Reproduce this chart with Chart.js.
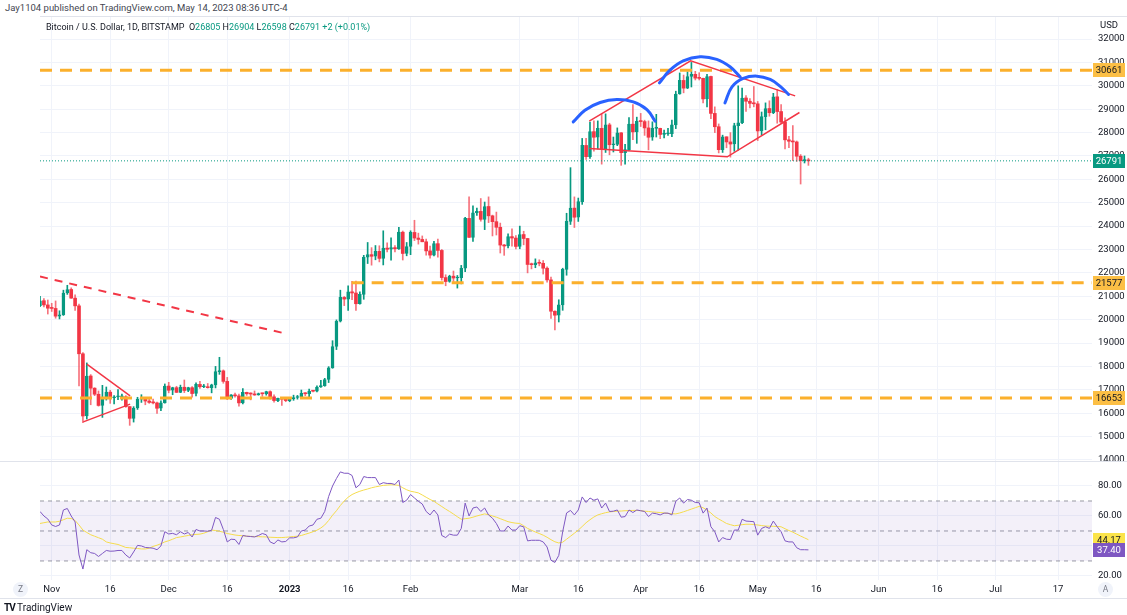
<!DOCTYPE html>
<html>
<head>
<meta charset="utf-8">
<script src="https://cdn.jsdelivr.net/npm/chart.js@4.4.0/dist/chart.umd.min.js"></script>
<style>
  body { margin: 0; background: #fff; width: 1127px; height: 615px; overflow: hidden; position: relative;
         font-family: Roboto, "Noto Sans", sans-serif; color: #131722; }
  canvas { position: absolute; left: 0; }
  #price { top: 17px; }
  #rsi { top: 461px; }
  .t { position: absolute; white-space: nowrap; font-size: 9.5px; line-height: 12px; }
  .sep { position: absolute; height: 1px; background: #e0e3eb; }
  .g { color: #089981; }
  .btn { position: absolute; width: 15px; height: 15px; border-radius: 50%; background: #f0f3fa;
         color: #787b86; font-size: 8.5px; text-align: center; line-height: 15px; }
</style>
</head>
<body>
<div class="t" style="left:5px;top:2px;color:#434651">Jay1104 published on TradingView.com, May 14, 2023 08:36 UTC-4</div>
<div class="sep" style="left:40px;top:16px;width:1087px"></div>
<div class="sep" style="left:0;top:461px;width:1127px"></div>
<div class="sep" style="left:0;top:598px;width:1127px"></div>
<canvas id="price" width="1127" height="444"></canvas>
<canvas id="rsi" width="1127" height="138"></canvas>
<div class="t" style="left:46px;top:21px;font-size:9px">Bitcoin / U.S. Dollar, 1D, BITSTAMP &nbsp;O<span class="g">26805</span> H<span class="g">26904</span> L<span class="g">26598</span> C<span class="g">26791</span> <span class="g">+2 (+0.01%)</span></div>
<div class="t" style="left:1100px;top:19px;color:#131722">USD</div>
<div class="btn" style="left:13px;top:582px">Z</div>
<div class="btn" style="left:1098px;top:582px">A</div>
<div class="t" style="left:4px;top:602px;font-size:10px;color:#131722"><b style="letter-spacing:-1px">TV</b> TradingView</div>

<script>
// day 0 = 1 Nov 2022; first candle is 29 Oct 2022
const firstDay = -3;

const opens = [
  20600, 20810, 20630,
  20490, 20480, 20150, 20210, 21140, 21290, 20920, 20590, 18540, 15880, 17590, 17070, 16810, 16330, 16620, 16900, 16660, 16700, 16700, 16700, 16280, 15780, 16220, 16600, 16600, 16520, 16460, 16440, 16210, 16440,
  17160, 16980, 17090, 16890, 17110, 16970, 17090, 16840, 17230, 17130, 17130, 17090, 17210, 17780, 17810, 17360, 16630, 16780, 16740, 16440, 16890, 16830, 16820, 16780, 16840, 16830, 16920, 16700, 16540, 16630, 16600,
  16540, 16610, 16670, 16670, 16850, 16830, 16950, 16940, 17120, 17180, 17440, 17940, 18850, 19930, 20950, 20880, 21190, 21140, 20680, 21080, 22670, 22780, 22710, 22920, 22620, 23060, 23010, 23080, 23030, 23740, 22830,
  23130, 23730, 23490, 23430, 23330, 22940, 22760, 23250, 22960, 21800, 21630, 21860, 21780, 21790, 22200, 24330, 23520, 24570, 24630, 24290, 24840, 24440, 24190, 23950, 23190, 23150, 23550, 23490,
  23130, 23640, 23470, 22360, 22350, 22430, 22410, 22200, 21700, 20360, 20190, 20630, 22150, 24200, 24770, 24380, 25050, 27450, 26970, 28040, 27800, 28180, 27300, 28330, 27480, 27490, 27990, 27140, 27270, 28360, 28030,
  28480, 28470, 28200, 27800, 28180, 28180, 27920, 27950, 27950, 28330, 29650, 30230, 29900, 30400, 30490, 30330, 30320, 29440, 30400, 28820, 28250, 27270, 27820, 27600, 27510, 28300, 28420, 29480, 29340, 29250,
  29230, 28070, 28680, 29030, 28850, 29530, 28900, 28450, 27690, 27630, 27600, 26990, 26800, 26805
];
const highs = [
  21000, 20900, 20840,
  20700, 20800, 20380, 21260, 21470, 21360, 21060, 20670, 18590, 18150, 17650, 17090, 16950, 17190, 17120, 16980, 16750, 17010, 16820, 16750, 16290, 16280, 16680, 16790, 16610, 16680, 16600, 16480, 16530, 17250,
  17320, 17110, 17150, 17200, 17420, 17110, 17140, 17300, 17360, 17230, 17270, 17240, 18000, 18390, 17850, 17530, 16800, 16860, 16820, 17050, 16900, 16870, 16950, 16860, 16860, 16940, 16960, 16780, 16650, 16640, 16650,
  16630, 16770, 16760, 16990, 16880, 17030, 16960, 17170, 17400, 17490, 17990, 19100, 19990, 21260, 20990, 21450, 21640, 21650, 21190, 22750, 23300, 23080, 23170, 23160, 23800, 23280, 23500, 23170, 23950, 23790, 23300,
  23800, 24250, 23700, 23580, 23450, 23150, 23350, 23450, 23000, 21920, 21900, 22080, 21890, 22320, 24380, 25250, 24870, 24770, 25180, 25030, 25250, 24470, 24600, 24130, 23220, 23670, 23880, 23600,
  24000, 23780, 23480, 22420, 22600, 22560, 22530, 22260, 21820, 20380, 20850, 22200, 24550, 26500, 25250, 25200, 27750, 27750, 28450, 28500, 28500, 28800, 28800, 28400, 27810, 28200, 28000, 27500, 28640, 29200, 28660,
  28820, 28530, 28500, 28460, 28780, 28190, 28110, 28180, 28530, 29770, 30550, 30460, 30600, 31000, 30620, 30560, 30330, 30490, 30420, 29100, 28370, 27890, 27820, 28000, 28400, 30000, 29900, 29580, 29450, 29970,
  29330, 28880, 29270, 29360, 29680, 29840, 29200, 28630, 27840, 28300, 27640, 27060, 27000, 26904
];
const lows = [
  20560, 20540, 20240,
  20350, 20060, 20030, 20180, 21080, 20910, 20390, 17170, 15590, 15750, 16360, 16750, 16300, 15820, 16560, 16420, 16400, 16580, 16560, 16250, 15480, 15620, 16160, 16460, 16360, 16420, 16400, 15990, 16110, 16430,
  16870, 16790, 16880, 16880, 16880, 16920, 16690, 16740, 17060, 17090, 17070, 16870, 17080, 17660, 17280, 16580, 16590, 16690, 16300, 16400, 16760, 16570, 16760, 16770, 16720, 16770, 16600, 16470, 16490, 16330, 16490,
  16490, 16550, 16600, 16650, 16750, 16680, 16910, 16910, 17100, 17150, 17310, 17920, 18720, 19900, 20600, 20400, 20850, 20400, 20660, 20870, 22400, 22330, 22560, 22470, 22340, 22900, 22540, 22900, 23000, 22550, 22730,
  22780, 23380, 23230, 23330, 22760, 22630, 22730, 22670, 21690, 21450, 21600, 21630, 21350, 21530, 22050, 23510, 23350, 24460, 24210, 23850, 24150, 23580, 23620, 22850, 22750, 23070, 23140, 23020,
  23030, 23200, 22000, 22170, 22220, 22300, 21950, 21600, 20050, 19560, 19900, 20400, 21900, 24070, 23940, 24200, 24930, 26850, 26900, 27200, 27300, 26650, 27150, 27050, 27170, 27440, 26600, 26650, 27240, 27700, 27540,
  28260, 27880, 27260, 27670, 27810, 27740, 27770, 27880, 27820, 28170, 29640, 29700, 29880, 29950, 30250, 30250, 29270, 29100, 28600, 28000, 27130, 27150, 27350, 26950, 27200, 27250, 28380, 28900, 29050, 29100,
  27660, 27900, 28120, 28700, 28810, 28400, 28400, 27300, 27360, 26800, 26770, 25800, 26700, 26598
];
const closes = [
  20810, 20630, 20490,
  20480, 20150, 20210, 21140, 21290, 20920, 20590, 18540, 15880, 17590, 17070, 16810, 16330, 16620, 16900, 16660, 16700, 16700, 16700, 16280, 15780, 16220, 16600, 16600, 16520, 16460, 16440, 16210, 16440, 17160,
  16980, 17090, 16890, 17110, 16970, 17090, 16840, 17230, 17130, 17130, 17090, 17210, 17780, 17810, 17360, 16630, 16780, 16740, 16440, 16890, 16830, 16820, 16780, 16840, 16830, 16920, 16700, 16540, 16630, 16600, 16540,
  16610, 16670, 16670, 16850, 16830, 16950, 16940, 17120, 17180, 17440, 17940, 18850, 19930, 20950, 20880, 21190, 21140, 20680, 21080, 22670, 22780, 22710, 22920, 22620, 23060, 23010, 23080, 23030, 23740, 22830, 23130,
  23730, 23490, 23430, 23330, 22940, 22760, 23250, 22960, 21800, 21630, 21860, 21780, 21790, 22200, 24330, 23520, 24570, 24630, 24290, 24840, 24440, 24190, 23950, 23190, 23150, 23550, 23490, 23130,
  23640, 23470, 22360, 22350, 22430, 22410, 22200, 21700, 20360, 20190, 20630, 22150, 24200, 24770, 24380, 25050, 27450, 26970, 28040, 27800, 28180, 27300, 28330, 27480, 27490, 27990, 27140, 27270, 28360, 28030, 28480,
  28470, 28200, 27800, 28180, 28180, 27920, 27950, 27950, 28330, 29650, 30230, 29900, 30400, 30490, 30330, 30320, 29440, 30400, 28820, 28250, 27270, 27820, 27600, 27510, 28300, 28420, 29480, 29340, 29250, 29230,
  28070, 28680, 29030, 28850, 29530, 28900, 28450, 27690, 27630, 27600, 26990, 26800, 26805, 26791
];

const rsiVals = [
  63, 60, 58,
  54, 53, 54, 64, 65, 60, 56, 34, 24.6, 37.5, 35.5, 35, 33, 35, 37, 36.5, 36.6, 37, 37, 34, 32, 36, 40.4, 40, 39, 38.8, 38.5, 37.5, 40, 49.5,
  48, 48.4, 47.5, 49.5, 48, 49, 46, 51, 50, 50, 49.8, 50.5, 59, 57.8, 51, 42.7, 44.5, 44.3, 41, 47, 46.5, 46.3, 46, 47, 48.3, 47.5, 42.7, 41.5, 44, 42.7, 43,
  45.4, 45.4, 46, 50, 50.6, 53.3, 54, 57.8, 58.5, 63, 73, 80, 85, 89.4, 88.5, 88.5, 87, 78.8, 81, 86.3, 85.6, 85.6, 85.6, 81, 82.2, 81.7, 81.7, 81, 84, 69, 70.5,
  74.3, 72, 69.8, 68, 63, 60.7, 64, 60.7, 47, 45.6, 47.9, 47.2, 47.2, 51.7, 68.6, 60, 65.3, 66, 63, 65.3, 60.7, 58.5, 55, 50, 50, 53.3, 50.6, 50.6,
  53.5, 52.8, 43.4, 43.8, 43.8, 43.8, 42.7, 39.3, 30.5, 29, 33.7, 49.5, 62, 63.7, 60.7, 64, 72.7, 69, 72, 70.5, 71.4, 65.3, 68.6, 63, 63.2, 64, 59.2, 59.6, 64, 62.3, 64,
  63.5, 63, 59.6, 61.9, 61.5, 60.7, 61.9, 61.9, 60.7, 69.8, 72, 68.6, 71, 70.5, 69, 68.8, 61.9, 65.3, 52.8, 49.5, 42.7, 45.6, 44.5, 44.3, 50.6, 50.6, 57.8, 56.6, 56.4, 56.2,
  47.2, 51.7, 52.8, 51.7, 56.6, 52.8, 49.5, 43.4, 42.7, 42.7, 38.8, 37.5, 37.5, 37.4
];
const rsiMa = [
  55, 55.5, 56,
  56, 56, 56.5, 57.5, 58.5, 58.3, 57, 54, 50.6, 49, 47.5, 46.5, 45.5, 44.5, 42.7, 42, 41.5, 41, 40, 39, 38.8, 38.5, 38.3, 38, 38, 38.5, 39.7, 40.5, 41.5, 42.7,
  43.5, 44.5, 45.6, 46, 46.5, 47, 47.5, 47.7, 47.9, 48.5, 49.5, 50.6, 50.3, 49.8, 49.2, 48.3, 47.8, 47.3, 47, 46.8, 46.5, 46.4, 46.3, 46.2, 46.1, 46, 45.8, 45.7, 45.6, 45.6, 45.8,
  46, 46.3, 46.5, 47, 47.8, 48.6, 49.5, 50.5, 52, 54, 57, 60.5, 63.5, 67, 70, 72.5, 74.3, 75.5, 76.5, 77.3, 78, 78.8, 79.4, 79.9, 80.4, 80.6, 80.8, 80.7, 80.4, 78.8, 77.5,
  76.5, 76, 75.4, 74, 72.5, 71, 69.8, 68, 66.3, 64.6, 63, 61.3, 59.5, 57.8, 58.2, 58.5, 59.2, 60, 60.7, 61.4, 60.8, 60, 59.2, 58.2, 57.2, 56.2, 55.6, 55.2,
  55, 53.5, 51.7, 50.5, 49.3, 48.3, 47.2, 45.8, 44.2, 42.8, 42, 42.5, 44.5, 46.5, 48.5, 50.6, 53, 55.5, 57.5, 59.3, 60.7, 61.5, 62.2, 62.7, 63, 63.2, 63.3, 63.5, 63.6, 63.7, 63.7,
  63.5, 63.2, 63, 62.7, 62.5, 62.3, 62, 61.7, 61.5, 61.4, 62, 62.8, 63.7, 64.6, 65.5, 66.4, 65.5, 64, 62, 59.6, 58, 56.5, 55, 54.2, 53.5, 53.8, 54.2, 54.5, 54.5, 54.3,
  54, 53.6, 53.3, 53.2, 53.1, 53, 52.8, 51.5, 50.3, 49.2, 47.9, 46.6, 45.4, 44.17
];

// time axis: day number (0 = Nov 1) and its label
const tickDays   = [0, 15, 30, 45, 61, 76, 92, 120, 135, 151, 166, 181, 196, 212, 227, 242, 258];
const tickLabels = ['Nov', '16', 'Dec', '16', '2023', '16', 'Feb', 'Mar', '16', 'Apr', '16', 'May', '16', 'Jun', '16', 'Jul', '17'];
const priceTicks = [14000, 15000, 16000, 17000, 18000, 19000, 20000, 21000, 22000, 23000, 24000, 25000, 26000, 27000, 28000, 29000, 30000, 31000, 32000];
const rsiTicks   = [20, 40, 60, 80];

// horizontal levels [price, first day]
const levels = [[30661, -3], [21577, 76.9], [16653, -3]];
const lastPrice = 26791;
const lastRsi = 37.40;
const lastRsiMa = 44.17;

// drawings, as [day, price] points
const downTrend = [[-3, 21842], [59.8, 19411]];
const redLines = [
  [[9.0, 18101], [20.1, 16743]],
  [[8.1, 15629], [20.1, 16387]],
  [[137.8, 28486], [163.8, 31070], [190.6, 29570]],
  [[137.8, 27316], [173.2, 26964], [191.7, 28859]]
];
const blueArcs = [
  [[133.7, 28456], [136.7, 28957], [140.6, 29287], [144.9, 29416], [149.1, 29313], [152.6, 28987], [154.7, 28486]],
  [[155.8, 30127], [158.5, 30671], [161.9, 31070], [166.2, 31241], [170.5, 31130], [173.9, 30813], [176.5, 30384]],
  [[172.6, 29270], [174.4, 29956], [177.3, 30316], [180.8, 30414], [184.2, 30273], [186.7, 29986], [188.9, 29630]]
];

const X_MIN = -3, X_MAX = 266.7;
const UP = '#089981', DOWN = '#f23645', ORANGE = '#fbb02c';
const GRID = '#f0f3fa';

const days = closes.map((_, i) => firstDay + i);
const isUp = i => closes[i] >= opens[i];
const toXY = pts => pts.map(p => ({ x: p[0], y: p[1] }));

// no label overhang padding: chart areas must line up exactly with the panes
const noPad = s => { s.paddingTop = 0; s.paddingBottom = 0; s.paddingLeft = 0; s.paddingRight = 0; };

function xScale(showLabels) {
  return {
    type: 'linear', min: X_MIN, max: X_MAX, offset: false,
    grid: { color: GRID, drawTicks: false, offset: false },
    border: { display: false },
    afterBuildTicks: s => { s.ticks = tickDays.map(v => ({ value: v })); },
    afterFit: s => { s.height = showLabels ? 19 : 0; noPad(s); },
    ticks: {
      display: showLabels, autoSkip: false, maxRotation: 0, padding: 4, color: '#131722',
      font: ctx => ({ family: 'Roboto', size: 9.5, weight: ctx.tick && ctx.tick.value === 61 ? 'bold' : 'normal' }),
      callback: v => tickLabels[tickDays.indexOf(v)]
    }
  };
}

function boxLabel(ctx, y, text, bg, fg) {
  ctx.fillStyle = bg;
  ctx.fillRect(1093, Math.round(y) - 7, 32, 14);
  ctx.fillStyle = fg;
  ctx.font = '9.5px Roboto';
  ctx.textAlign = 'center';
  ctx.textBaseline = 'middle';
  ctx.fillText(text, 1109, Math.round(y) + 0.5);
}

const priceBoxes = {
  id: 'priceBoxes',
  afterDraw(chart) {
    const y = chart.scales.y, ctx = chart.ctx;
    ctx.save();
    levels.forEach(l => boxLabel(ctx, y.getPixelForValue(l[0]), String(l[0]), '#fcbf45', '#131722'));
    boxLabel(ctx, y.getPixelForValue(lastPrice), String(lastPrice), UP, '#fff');
    ctx.restore();
  }
};

const lineSet = (pts, color, width, dash, extra) => Object.assign({
  type: 'line', data: toXY(pts), borderColor: color, borderWidth: width, borderDash: dash || [],
  pointRadius: 0, fill: false, order: 1
}, extra || {});

const priceDatasets = [];
blueArcs.forEach(a => priceDatasets.push(lineSet(a, '#2962ff', 3, [], { tension: 0.4, borderCapStyle: 'round' })));
redLines.forEach(l => priceDatasets.push(lineSet(l, DOWN, 1.5)));
priceDatasets.push(lineSet(downTrend, DOWN, 2, [8, 7]));
levels.forEach(l => priceDatasets.push(lineSet([[l[1], l[0]], [X_MAX, l[0]]], ORANGE, 3, [12, 8], { order: 3 })));
priceDatasets.push(lineSet([[X_MIN, lastPrice], [X_MAX, lastPrice]], UP, 1, [1, 2], { order: 3 }));
priceDatasets.push({
  type: 'bar', grouped: false, order: 5, barThickness: 3, minBarLength: 1, borderSkipped: false,
  data: days.map((d, i) => ({ x: d, y: [opens[i], closes[i]] })),
  backgroundColor: ctx => isUp(ctx.dataIndex) ? 'rgba(8,153,129,0.5)' : DOWN,
  borderColor: ctx => isUp(ctx.dataIndex) ? UP : DOWN,
  borderWidth: ctx => isUp(ctx.dataIndex) ? 1 : 0
});
priceDatasets.push({
  type: 'bar', grouped: false, order: 6, barThickness: 1, borderSkipped: false,
  data: days.map((d, i) => ({ x: d, y: [lows[i], highs[i]] })),
  backgroundColor: ctx => isUp(ctx.dataIndex) ? UP : 'rgba(242,54,69,0.7)'
});

new Chart(document.getElementById('price'), {
  type: 'bar',
  data: { datasets: priceDatasets },
  options: {
    responsive: false, animation: false, events: [],
    layout: { padding: { left: 40, right: 0, top: 0, bottom: 0 } },
    plugins: { legend: { display: false }, tooltip: { enabled: false } },
    scales: {
      x: xScale(false),
      y: {
        position: 'right', min: 13955, max: 32943,
        grid: { color: GRID, drawTicks: false },
        border: { display: false },
        afterBuildTicks: s => { s.ticks = priceTicks.map(v => ({ value: v })); },
        afterFit: s => { s.width = 35; noPad(s); },
        ticks: { color: '#131722', padding: 6, font: { family: 'Roboto', size: 9.5 }, callback: v => String(v) }
      }
    }
  },
  plugins: [priceBoxes]
});

const rsiBoxes = {
  id: 'rsiBoxes',
  afterDraw(chart) {
    const y = chart.scales.y, ctx = chart.ctx;
    ctx.save();
    boxLabel(ctx, y.getPixelForValue(lastRsiMa), lastRsiMa.toFixed(2), '#fbe44a', '#131722');
    boxLabel(ctx, y.getPixelForValue(lastRsi), lastRsi.toFixed(2), '#7e57c2', '#fff');
    ctx.restore();
  }
};

const bandLine = v => [[X_MIN, v], [X_MAX, v]];
const BAND_DASH = 'rgba(120,123,134,0.75)';

new Chart(document.getElementById('rsi'), {
  type: 'line',
  data: {
    datasets: [
      lineSet(days.map((d, i) => [d, rsiVals[i]]), '#7e57c2', 1, [], { order: 0 }),
      lineSet(days.map((d, i) => [d, rsiMa[i]]), '#f5dc4c', 1, [], { order: 1 }),
      lineSet(bandLine(70), BAND_DASH, 1, [4, 4], { order: 2, fill: 4, backgroundColor: 'rgba(126,87,194,0.09)' }),
      lineSet(bandLine(50), BAND_DASH, 1, [4, 4], { order: 2 }),
      lineSet(bandLine(30), BAND_DASH, 1, [4, 4], { order: 2 })
    ]
  },
  options: {
    responsive: false, animation: false, events: [],
    layout: { padding: { left: 40, right: 0, top: 1, bottom: 0 } },
    plugins: { legend: { display: false }, tooltip: { enabled: false } },
    scales: {
      x: xScale(true),
      y: {
        position: 'right', min: 17.3, max: 96,
        grid: { color: GRID, drawTicks: false },
        border: { display: false },
        afterBuildTicks: s => { s.ticks = rsiTicks.map(v => ({ value: v })); },
        afterFit: s => { s.width = 35; noPad(s); },
        ticks: { color: '#131722', padding: 6, font: { family: 'Roboto', size: 9.5 }, callback: v => v.toFixed(2) }
      }
    }
  },
  plugins: [rsiBoxes]
});
</script>
</body>
</html>
